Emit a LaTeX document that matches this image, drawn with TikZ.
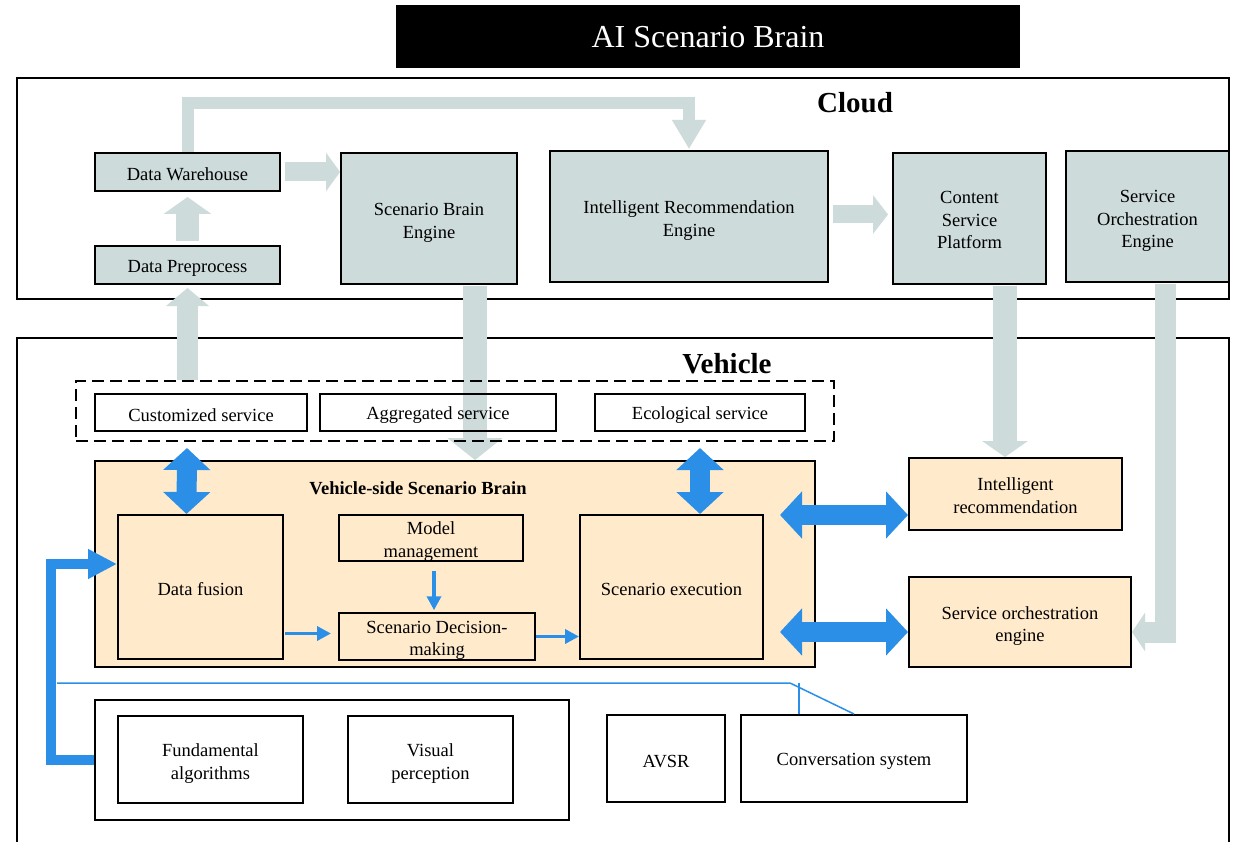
\documentclass[tikz,border=0pt]{standalone}
\usepackage{fontspec}
\setmainfont{Liberation Serif}
\usetikzlibrary{arrows.meta,calc}
\definecolor{cgray}{HTML}{CEDBDB}
\definecolor{corange}{HTML}{FFEBCC}
\definecolor{cblue}{HTML}{2B8FE8}
\newcommand\upr[1]{\rule{0pt}{#1pt}}
\begin{document}
\begin{tikzpicture}[x=1pt,y=-1pt,
  txt/.style={font=\fontsize{18.5}{22.5}\selectfont, align=center, execute at begin node={\rule{0pt}{18pt}}},
  frame/.style={draw=black, line width=2pt, inner sep=0pt},
  gbox/.style={draw=black, line width=2pt, fill=cgray, inner sep=0pt, txt},
  obox/.style={draw=black, line width=2pt, fill=corange, inner sep=0pt, txt},
  wbox/.style={draw=black, line width=2pt, fill=white, inner sep=0pt, txt},
  nbox/.style={draw=black, line width=2pt, inner sep=0pt, txt},
  garrow/.style={draw=cgray, line join=miter},
  bd/.style={draw=cblue, line width=20pt, {Triangle[width=46pt,length=22pt]}-{Triangle[width=46pt,length=22pt]}},
  tb/.style={draw=cblue, line width=3.5pt, -{Triangle[width=14pt,length=14pt]}},
  big/.style={font=\fontsize{29}{31}\selectfont\bfseries}
]
\clip (0,0) rectangle (1241,842);
\fill[white] (0,0) rectangle (1241,842);

% title
\node[fill=black, text=white, minimum width=624, minimum height=63, inner sep=0pt,
  font=\fontsize{32}{35}\selectfont] (title) at (708,37) {AI Scenario Brain};

% frames
\node[frame, minimum width=1212, minimum height=221] (cloud) at (623,188.5) {};
\node[big] (cloudlbl) at (855,103) {Cloud};
\node[frame, minimum width=1212, minimum height=522] (veh) at (623,599) {};
\node[big] (vehlbl) at (727,364) {Vehicle};

% cloud boxes
\node[gbox, minimum width=185, minimum height=38] (dw) at (187.5,172) {Data Warehouse};
\node[gbox, minimum width=185, minimum height=38] (dp) at (187.5,265) {Data Preprocess};
\node[gbox, minimum width=176, minimum height=131] (sbe) at (429,218.5) {\upr{21}Scenario Brain\\Engine};
\node[gbox, minimum width=278, minimum height=131] (ire) at (689,216.5) {\upr{21}Intelligent Recommendation\\Engine};
\node[gbox, minimum width=153, minimum height=131] (csp) at (969.5,218.5) {\upr{16}Content\\Service\\Platform};
\node[gbox, minimum width=163, minimum height=131] (soe) at (1147.5,216.5) {\upr{21}Service\\Orchestration\\Engine};

% vehicle-side boxes (orange)
\node[obox, minimum width=720, minimum height=206] (vsb) at (455,564) {};
\node[font=\fontsize{18.5}{21}\selectfont\bfseries] (vsbt) at (418,488) {Vehicle-side Scenario Brain};
\node[obox, minimum width=165, minimum height=144] (df) at (200.5,587) {Data fusion};
\node[obox, minimum width=184, minimum height=45] (mm) at (431,538) {\upr{20}Model\\management};
\node[obox, minimum width=196, minimum height=46] (sdm) at (437,636.5) {\upr{20}Scenario Decision-\\making};
\node[obox, minimum width=183, minimum height=144] (se) at (671.5,587) {Scenario execution};
\node[obox, minimum width=213, minimum height=72] (ir) at (1015.5,494) {\upr{16}Intelligent\\recommendation};
\node[obox, minimum width=222, minimum height=90] (soeng) at (1020,622) {\upr{21}Service orchestration\\engine};

% gray block arrows (over frames, under service boxes)
\node[inner sep=0pt, minimum width=758, minimum height=60] (svcpos) at (455,411) {};
\draw[garrow, line width=12pt, -{Triangle[width=32pt,length=29pt]}]
  (dw.north) -- ++(0,-49) -| ([yshift=1pt]ire.north);
\draw[garrow, line width=19pt, -{Triangle[width=38pt,length=14pt]}]
  ([xshift=4pt]dw.east) -- (dw.east -| sbe.west);
\draw[garrow, line width=23pt, -{Triangle[width=47pt,length=17pt]}]
  ([yshift=4pt]dp.north) -- ([yshift=-5pt]dw.south);
\draw[garrow, line width=21pt, -{Triangle[width=42pt,length=18pt]}]
  ([yshift=1pt]svcpos.north -| dp.south) -- ([yshift=-3pt]dp.south);
\draw[garrow, line width=24pt, -{Triangle[width=54pt,length=22pt]}]
  ([xshift=46pt,yshift=-1pt]sbe.south) -- ([xshift=46pt]sbe.south |- vsb.north);
\draw[garrow, line width=24pt, -{Triangle[width=45pt,length=16pt]}]
  ([xshift=35.5pt,yshift=-1pt]csp.south) -- ([xshift=35.5pt]csp.south |- ir.north);
\draw[garrow, line width=21pt, -{Triangle[width=38pt,length=13pt]}]
  ([xshift=17.5pt,yshift=-1pt]soe.south) |- ([yshift=-10pt]soeng.east);
\draw[garrow, line width=18pt, -{Triangle[width=38pt,length=15pt]}]
  ([xshift=4pt,yshift=2pt]ire.east) -- ([xshift=-4pt,yshift=2pt]ire.east -| csp.west);

% dashed service group
\node[draw=black, line width=2pt, dash pattern=on 12pt off 6pt, inner sep=0pt,
  minimum width=758, minimum height=60] (svc) at (455,411) {};
\node[nbox, minimum width=212, minimum height=37] (cs) at (201,412.5) {Customized service};
\node[nbox, minimum width=236, minimum height=37] (as) at (438,412.5) {Aggregated service};
\node[nbox, minimum width=210, minimum height=37] (es) at (700,412.5) {Ecological service};

% bottom boxes
\node[wbox, minimum width=474, minimum height=120] (fo) at (332,760) {};
\node[wbox, minimum width=185, minimum height=87] (fa) at (210.5,759.5) {\upr{21}Fundamental\\algorithms};
\node[wbox, minimum width=165, minimum height=87] (vp) at (430.5,759.5) {\upr{21}Visual\\perception};
\node[wbox, minimum width=118, minimum height=87] (avsr) at (666,758.5) {AVSR};
\node[wbox, minimum width=226, minimum height=87] (conv) at (854,758.5) {Conversation system};

% blue arrows
\draw[bd] ([xshift=-14pt,yshift=-6pt]svc.south -| cs.south) -- ([xshift=-14pt]df.north);
\draw[bd] ([yshift=-6pt]svc.south -| es.south) -- (es.south |- se.north);
\draw[bd] ([xshift=16pt,yshift=-21pt]ir.west -| se.east) -- ([yshift=-21pt]ir.west);
\draw[bd] ([xshift=16pt,yshift=-10pt]soeng.west -| se.east) -- ([yshift=-10pt]soeng.west);

\draw[tb] ([xshift=3pt,yshift=-9pt]mm.south) -- ([xshift=3pt,yshift=2pt]mm.south |- sdm.north);
\draw[tb] ([xshift=1pt,yshift=3pt]sdm.west -| df.east) -- ([xshift=-7pt,yshift=3pt]sdm.west);
\draw[tb] (sdm.east) -- (sdm.east -| se.west);

\draw[draw=cblue, line width=10pt, line join=miter, -{Triangle[width=28pt,length=29pt]}]
  (fo.west) -- ++(-43,0) |- ([yshift=23pt]df.west);

% thin connector line
\coordinate (t1) at (57,683);
\coordinate (t2) at (790,683);
\coordinate (t3) at (799,683);
\draw[draw=cblue, line width=1.5pt] (t1) -- (t2) -- (conv.north);
\draw[draw=cblue, line width=1.5pt] (t3) -- (t3 |- conv.north);
\end{tikzpicture}
\end{document}
